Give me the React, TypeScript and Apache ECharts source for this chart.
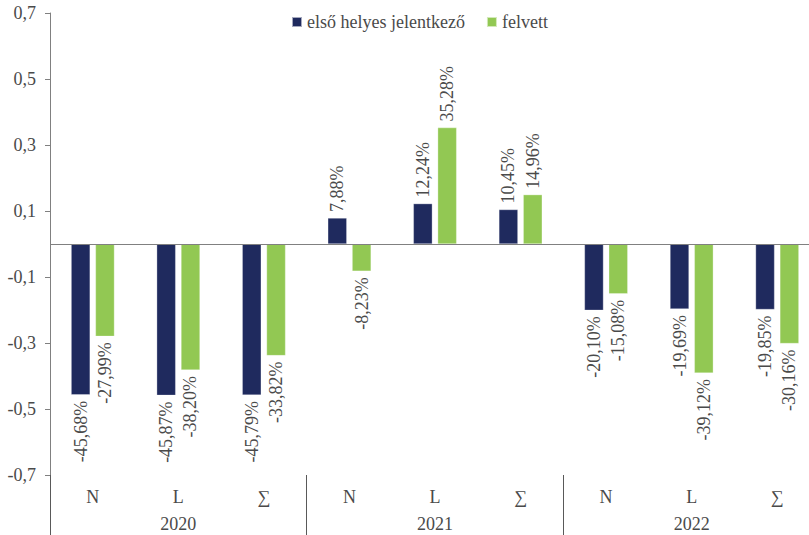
import React, { useEffect, useRef } from "react";
import * as echarts from "echarts";

const categories = ["N", "L", "∑", "N", "L", "∑", "N", "L", "∑"];
const years = ["2020", "2021", "2022"];
const seriesNames = ["első helyes jelentkező", "felvett"];
const firstChoice = [-0.4568, -0.4587, -0.4579, 0.0788, 0.1224, 0.1045, -0.201, -0.1969, -0.1985];
const admitted = [-0.2799, -0.382, -0.3382, -0.0823, 0.3528, 0.1496, -0.1508, -0.3912, -0.3016];
const colors = ["#1f2a5e", "#92c853"];

const FONT = "Liberation Serif";
const TEXT = "#4a4a4a";
const FS = 18;

function pct(v: number) {
  return (v * 100).toFixed(2).replace(".", ",") + "%";
}

function makeSeries(name: string, data: number[], color: string, extra: any = {}) {
  return {
    name,
    type: "bar",
    barWidth: 19,
    barGap: "28%",
    itemStyle: { color, borderColor: "rgba(255,255,255,0.6)", borderWidth: 0.5 },
    data: data.map((v) => ({
      value: v,
      label: {
        show: true,
        position: v >= 0 ? "top" : "bottom",
        rotate: 90,
        align: v >= 0 ? "left" : "right",
        verticalAlign: "middle",
        distance: 6,
        formatter: () => pct(v),
        fontFamily: FONT,
        fontSize: FS,
        color: TEXT,
      },
    })),
    ...extra,
  };
}

export default function App() {
  const ref = useRef<HTMLDivElement>(null);
  useEffect(() => {
    if (!ref.current) return;
    const chart = echarts.init(ref.current, null, { renderer: "svg" });
    chart.setOption({
      animation: false,
      textStyle: { fontFamily: FONT },
      legend: {
        top: 8,
        left: 286,
        itemWidth: 10,
        itemHeight: 10,
        itemGap: 21,
        icon: "rect",
        textStyle: { fontFamily: FONT, fontSize: FS, color: TEXT },
        data: seriesNames,
      },
      grid: { left: 50, top: 13, bottom: 60, right: 0 },
      xAxis: [
        {
          type: "category",
          data: categories,
          position: "bottom",
          axisLine: { show: false, onZero: false },
          axisTick: {
            show: true,
            length: 60,
            interval: (i: number) => i % 3 === 0,
            lineStyle: { color: "#595959", width: 1 },
          },
          axisLabel: { margin: 13, fontFamily: FONT, fontSize: FS, color: TEXT },
          splitLine: { show: false },
        },
        {
          type: "category",
          data: years,
          position: "bottom",
          axisLine: { show: false, onZero: false },
          axisTick: { show: false },
          axisLabel: { margin: 40, fontFamily: FONT, fontSize: FS, color: TEXT },
          splitLine: { show: false },
        },
      ],
      yAxis: {
        type: "value",
        min: -0.7,
        max: 0.7,
        interval: 0.2,
        axisLine: { show: true, lineStyle: { color: "#808080" } },
        axisTick: { show: true, length: 5, lineStyle: { color: "#808080" } },
        splitLine: { show: false },
        axisLabel: {
          margin: 14,
          fontFamily: FONT,
          fontSize: FS,
          color: TEXT,
          formatter: (v: number) => v.toFixed(1).replace(".", ","),
        },
      },
      series: [
        makeSeries(seriesNames[0], firstChoice, colors[0], {
          markLine: {
            silent: true,
            symbol: "none",
            label: { show: false },
            lineStyle: { color: "#808080", type: "solid", width: 1 },
            data: [{ yAxis: 0 }],
          },
        }),
        makeSeries(seriesNames[1], admitted, colors[1]),
      ],
    });
    return () => chart.dispose();
  }, []);
  return (
    <div style={{ width: 809, height: 535, position: "absolute", left: 0, top: 0, overflow: "hidden" }}>
      <div ref={ref} style={{ width: 820, height: 535 }} />
    </div>
  );
}
